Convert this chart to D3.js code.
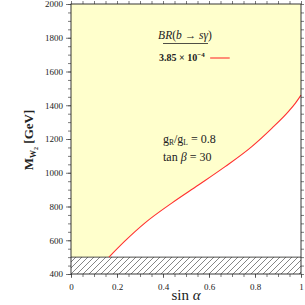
<!DOCTYPE html>
<html>
<head>
<meta charset="utf-8">
<script src="https://cdn.jsdelivr.net/npm/d3@7"></script>
<style>
  body { margin: 0; background: #fff; }
  text { font-family: "Liberation Serif", "DejaVu Serif", serif; fill: #222; }
</style>
</head>
<body>
<div class="container"></div>
<script>
// curve
let sinAlpha = [0.165, 0.235, 0.322, 0.438, 0.554, 0.67, 0.786, 0.873, 0.945, 0.975, 1.0];
let mW2 = [500, 596, 703, 820, 927, 1036, 1155, 1263, 1362, 1411, 1460];
let xTicks = [0, 0.2, 0.4, 0.6, 0.8, 1];
let yTicks = [400, 600, 800, 1000, 1200, 1400, 1600, 1800, 2000];
let hatchTop = 500;

let data = sinAlpha.map((s, i) => ({x: s, y: mW2[i]}));

let outerWidth = 305, outerHeight = 305;
let margin = {top: 4, right: 4, bottom: 31, left: 71};
let width = outerWidth - margin.left - margin.right,
    height = outerHeight - margin.top - margin.bottom;

let svg = d3.select('.container').append('svg')
  .attr('width', outerWidth)
  .attr('height', outerHeight);

let defs = svg.append('defs');
let pat = defs.append('pattern')
  .attr('id', 'hatch')
  .attr('patternUnits', 'userSpaceOnUse')
  .attr('width', 6).attr('height', 6);
pat.append('path')
  .attr('d', 'M-1,7 L7,-1 M-4,4 L4,-4 M2,10 L10,2')
  .attr('stroke', '#333').attr('stroke-width', 0.6);

let g = svg.append('g')
  .attr('transform', `translate(${margin.left},${margin.top})`);

let x = d3.scaleLinear().domain([0, 1]).range([0, width]);
let y = d3.scaleLinear().domain([400, 2000]).range([height, 0]);

// yellow allowed region
g.append('rect')
  .attr('x', 0).attr('y', y(2000))
  .attr('width', width).attr('height', y(hatchTop) - y(2000))
  .attr('fill', '#ffffcc');

// white region under the curve
let area = d3.area()
  .x(d => x(d.x))
  .y0(y(hatchTop))
  .y1(d => y(d.y))
  .curve(d3.curveMonotoneX);
g.append('path')
  .datum(data)
  .attr('d', area)
  .attr('fill', '#fff');

// hatched excluded band
g.append('rect')
  .attr('x', 0).attr('y', y(hatchTop))
  .attr('width', width).attr('height', y(400) - y(hatchTop))
  .attr('fill', 'url(#hatch)');
g.append('line')
  .attr('x1', 0).attr('x2', width)
  .attr('y1', y(hatchTop)).attr('y2', y(hatchTop))
  .attr('stroke', '#222').attr('stroke-width', 0.8);

// red curve
let line = d3.line()
  .x(d => x(d.x))
  .y(d => y(d.y))
  .curve(d3.curveMonotoneX);
g.append('path')
  .datum(data)
  .attr('d', line)
  .attr('fill', 'none')
  .attr('stroke', '#ff3030')
  .attr('stroke-width', 1.1);

// axes, ticks outward on all sides
function styleAxis(sel) {
  sel.select('.domain').remove();
  sel.selectAll('line').attr('stroke', '#444').attr('stroke-width', 0.7);
  sel.selectAll('text').style('font-family', '"Liberation Serif", serif')
    .style('font-size', '9px').attr('fill', '#333');
}
let xMinor = d3.range(0, 1.0001, 0.05);
let yMinor = d3.range(400, 2001, 50);

g.append('g').attr('transform', `translate(0,${height})`)
  .call(d3.axisBottom(x).tickValues(xMinor).tickSize(3).tickFormat(''))
  .call(styleAxis);
g.append('g').attr('transform', `translate(0,${height})`)
  .call(d3.axisBottom(x).tickValues(xTicks).tickSize(4).tickPadding(6).tickFormat(d3.format('')))
  .call(styleAxis);
g.append('g')
  .call(d3.axisTop(x).tickValues(xMinor).tickSize(3).tickFormat(''))
  .call(styleAxis);
g.append('g')
  .call(d3.axisLeft(y).tickValues(yMinor).tickSize(3).tickFormat(''))
  .call(styleAxis);
g.append('g')
  .call(d3.axisLeft(y).tickValues(yTicks).tickSize(5).tickPadding(3).tickFormat(d3.format('')))
  .call(styleAxis);
g.append('g').attr('transform', `translate(${width},0)`)
  .call(d3.axisRight(y).tickValues(yMinor).tickSize(3).tickFormat(''))
  .call(styleAxis);

// frame
g.append('rect')
  .attr('x', 0).attr('y', 0).attr('width', width).attr('height', height)
  .attr('fill', 'none').attr('stroke', '#222').attr('stroke-width', 0.9);

// legend
let lg = g.append('text')
  .attr('x', 114).attr('y', 35)
  .attr('text-anchor', 'middle')
  .style('font-size', '11.5px');
lg.append('tspan').style('font-style', 'italic').text('BR');
lg.append('tspan').text('(');
lg.append('tspan').style('font-style', 'italic').text('b');
lg.append('tspan').text(' → ');
lg.append('tspan').style('font-style', 'italic').text('sγ');
lg.append('tspan').text(')');
g.append('line')
  .attr('x1', 92).attr('x2', 137).attr('y1', 39.5).attr('y2', 39.5)
  .attr('stroke', '#222').attr('stroke-width', 0.8);

let br = g.append('text')
  .attr('x', 88).attr('y', 57)
  .style('font-size', '10px').style('font-weight', 'bold');
br.append('tspan').text('3.85 × 10');
br.append('tspan').attr('dy', -4).style('font-size', '7px').text('−4');
g.append('line')
  .attr('x1', x(0.605)).attr('x2', x(0.69)).attr('y1', 54).attr('y2', 54)
  .attr('stroke', '#ff3030').attr('stroke-width', 1.1);

// parameters
let gr = g.append('text').attr('x', 92).attr('y', 139).style('font-size', '12px');
gr.append('tspan').text('g');
gr.append('tspan').attr('dy', 2).style('font-size', '7.5px').text('R');
gr.append('tspan').attr('dy', -2).text('/g');
gr.append('tspan').attr('dy', 2).style('font-size', '7.5px').text('L');
gr.append('tspan').attr('dy', -2).text(' = 0.8');

let tb = g.append('text').attr('x', 92).attr('y', 157).style('font-size', '12px');
tb.append('tspan').text('tan ');
tb.append('tspan').style('font-style', 'italic').text('β');
tb.append('tspan').text(' = 30');

// axis titles
let xt = svg.append('text')
  .attr('x', margin.left + width / 2).attr('y', 300)
  .attr('text-anchor', 'middle')
  .style('font-size', '15px');
xt.append('tspan').text('sin ');
xt.append('tspan').style('font-style', 'italic').text('α');

let yt = svg.append('text')
  .attr('transform', `translate(33,${margin.top + 136}) rotate(-90)`)
  .attr('text-anchor', 'middle')
  .style('font-size', '13px').style('font-weight', 'bold');
yt.append('tspan').text('M');
yt.append('tspan').attr('dy', 3).style('font-size', '8px').text('W');
yt.append('tspan').attr('dy', 2).style('font-size', '6px').text('2');
yt.append('tspan').attr('dy', -5).text(' [GeV]');
</script>
</body>
</html>
